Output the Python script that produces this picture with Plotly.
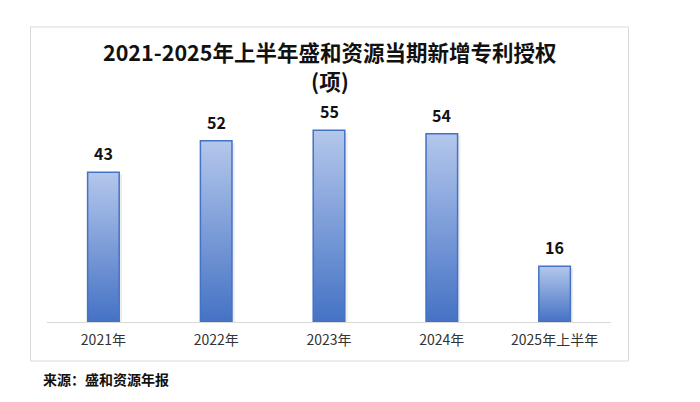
import plotly.graph_objects as go

categories = ["2021年", "2022年", "2023年", "2024年", "2025年上半年"]
values = [43, 52, 55, 54, 16]
title_line1 = "2021-2025年上半年盛和资源当期新增专利授权"
title_line2 = "(项)"
source_text = "来源：盛和资源年报"

FONT = "Noto Sans CJK SC, Microsoft YaHei, sans-serif"
half_w = 0.14
shadow_dx = 0.025

fig = go.Figure()
for i, v in enumerate(values):
    # soft shadow to the right of each bar
    fig.add_trace(go.Scatter(
        x=[i - half_w + shadow_dx, i + half_w + shadow_dx, i + half_w + shadow_dx,
           i - half_w + shadow_dx, i - half_w + shadow_dx],
        y=[0, 0, v - 0.6, v - 0.6, 0],
        mode="lines", fill="toself", fillcolor="rgba(0,0,0,0.07)",
        line=dict(width=0), hoverinfo="skip", showlegend=False,
    ))
    fig.add_trace(go.Scatter(
        x=[i - half_w, i + half_w, i + half_w, i - half_w, i - half_w],
        y=[0, 0, v, v, 0],
        mode="lines",
        fill="toself",
        fillgradient=dict(type="vertical",
                          colorscale=[[0, "#4472c4"], [1, "#b4c7ec"]]),
        line=dict(color="#4472c4", width=1.5),
        hoverinfo="skip",
        showlegend=False,
    ))

annotations = [dict(x=i, y=v, xref="x", yref="y", text=str(v), showarrow=False,
                    yanchor="bottom", yshift=5,
                    font=dict(family=FONT, size=16, color="#111111", weight="bold"))
               for i, v in enumerate(values)]
annotations.append(dict(text=source_text, xref="paper", yref="paper",
                        x=(40 - 46.5) / 565, y=(322 - 379) / 223,
                        xanchor="left", yanchor="middle", showarrow=False,
                        font=dict(family=FONT, size=14, color="#111111", weight="bold")))
annotations.append(dict(text=title_line1, xref="paper", yref="paper",
                        x=(330 - 46.5) / 565, y=(322 - 51) / 223,
                        xanchor="center", yanchor="middle", showarrow=False,
                        font=dict(family=FONT, size=21.5, color="#111111", weight="bold")))
annotations.append(dict(text=title_line2, xref="paper", yref="paper",
                        x=(330 - 46.5) / 565, y=(322 - 80) / 223,
                        xanchor="center", yanchor="middle", showarrow=False,
                        font=dict(family=FONT, size=21.5, color="#111111", weight="bold")))

fig.update_layout(
    width=700, height=402,
    margin=dict(l=46.5, r=88.5, t=99, b=80),
    paper_bgcolor="white", plot_bgcolor="white",
    xaxis=dict(range=[-0.5, 4.5], tickvals=list(range(len(categories))),
               ticktext=categories, showgrid=False, zeroline=False,
               showline=True, linecolor="#d9d9d9", linewidth=1,
               ticks="", ticklabelstandoff=5,
               tickfont=dict(family=FONT, size=14, color="#333333")),
    yaxis=dict(range=[0, 64], visible=False, showgrid=False, zeroline=False),
    shapes=[dict(type="rect", xref="paper", yref="paper",
                 x0=(30 - 46.5) / 565, x1=(629 - 46.5) / 565,
                 y0=(322 - 361) / 223, y1=(322 - 27) / 223,
                 line=dict(color="#d9d9d9", width=1), fillcolor="rgba(0,0,0,0)",
                 layer="below")],
    annotations=annotations,
)

fig.write_html("out.html", config={"displayModeBar": False},
               post_script="document.body.style.margin='0';document.body.style.padding='0';")
